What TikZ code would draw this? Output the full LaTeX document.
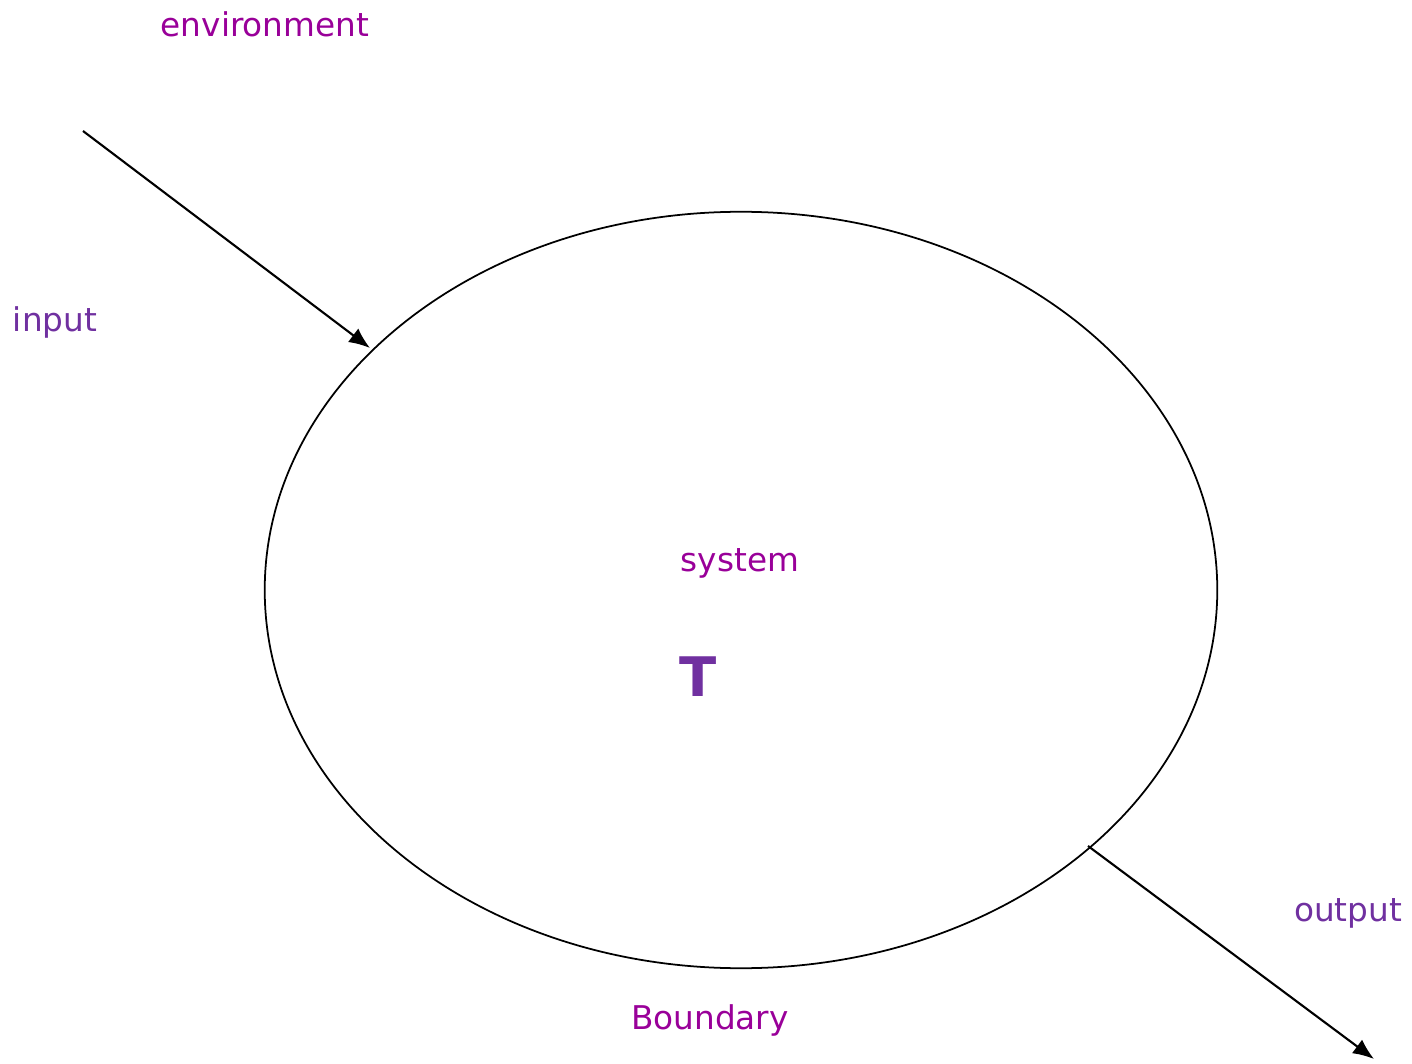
\documentclass[tikz,border=0pt]{standalone}
\usepackage{fontspec}
\setmainfont{DejaVu Sans}
\usetikzlibrary{arrows.meta,shapes.geometric}
\definecolor{magentapurple}{HTML}{990099}
\definecolor{violetpurple}{HTML}{7030A0}
\tikzset{
  lbl/.style={font=\fontsize{9.3}{11}\selectfont, inner sep=0pt},
  lblA/.style={lbl, text=magentapurple},
  lblB/.style={lbl, text=violetpurple},
  flow/.style={line width=0.6pt, -{Latex[length=0.21cm, width=0.17cm]}},
  boundary/.style={draw, line width=0.5pt, ellipse, minimum width=9.52cm, minimum height=7.56cm, inner sep=0pt}
}
\begin{document}
\begin{tikzpicture}[x=0.01cm, y=-0.01cm]
  \useasboundingbox (0,0) rectangle (1412,1064);
  % the system and its boundary
  \node[boundary] (sys) at (741,590) {};
  % labels
  \node[lblA] (env) at (265,24) {environment};
  \node[lblB] (inp) at (55,322) {input};
  \node[lblA] (sysl) at (740,563) {system};
  \node[text=violetpurple, font=\fontsize{15.5}{18}\bfseries\selectfont, inner sep=0pt] (tl) at (698,677) {T};
  \node[lblB] (outp) at (1348,913) {output};
  \node[lblA] (bnd) at (710,1020) {Boundary};
  % flows across the boundary
  \coordinate (inStart) at (83,131);
  \coordinate (inEnd) at (370,348);
  \coordinate (outStart) at (1088,846);
  \coordinate (outEnd) at (1374,1059);
  \draw[flow] (inStart) -- (inEnd);
  \draw[flow] (outStart) -- (outEnd);
\end{tikzpicture}
\end{document}
